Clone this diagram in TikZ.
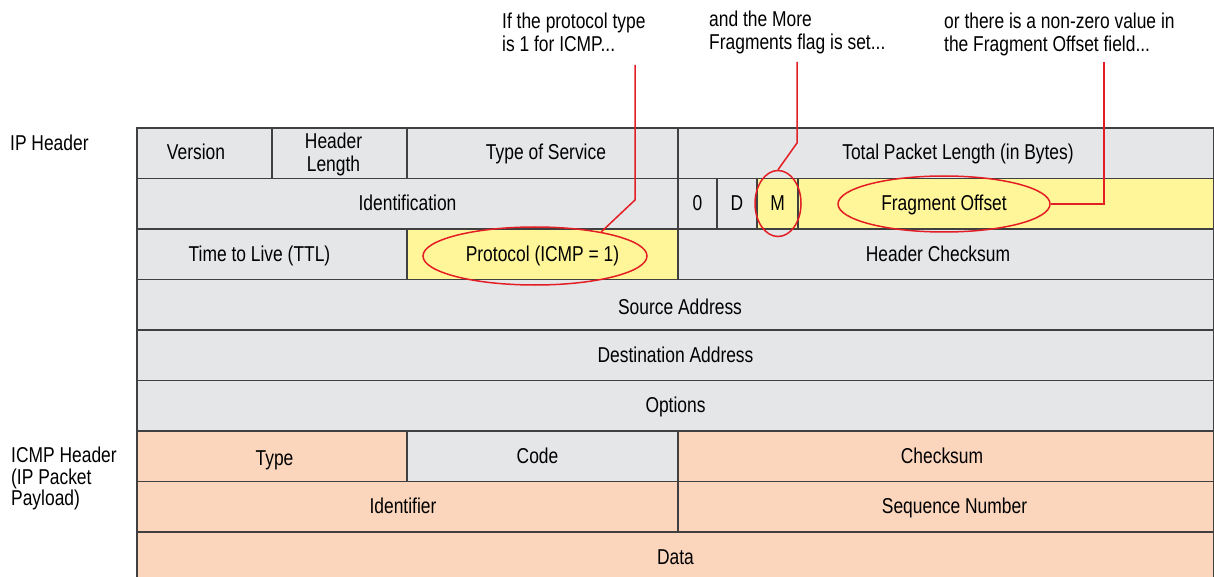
\documentclass[tikz,border=0pt]{standalone}
\usepackage{fontspec}
\setmainfont[FakeStretch=0.81]{Liberation Sans}
\usetikzlibrary{shapes.geometric, positioning}

\definecolor{cellgray}{RGB}{229,230,232}
\definecolor{cellyellow}{RGB}{255,246,153}
\definecolor{cellpeach}{RGB}{251,213,188}
\definecolor{edgegray}{RGB}{64,64,64}
\definecolor{markred}{RGB}{227,30,36}

\begin{document}
\begin{tikzpicture}[x=1pt, y=-1pt,
        cell/.style={rectangle, draw=edgegray, line width=1.1pt, fill=cellgray, minimum height=50.5pt, inner sep=0pt, outer sep=0pt, anchor=north west, align=center, text height=15.5pt, text depth=2pt, font=\fontsize{21.5}{23}\selectfont},
        nextto/.style={right=0pt of #1.north east, anchor=north west},
        under/.style={below=0pt of #1.south west, anchor=north west},
        nudge/.style={execute at begin node={\hspace*{#1pt}\hspace*{#1pt}}},
        low/.style={text height=21pt},
        ring/.style={ellipse, draw=markred, line width=1.5pt, inner sep=0pt, text height=15.5pt, text depth=2pt, font=\fontsize{21.5}{23}\selectfont},
        note/.style={anchor=north west, inner sep=0pt, align=left, font=\fontsize{21.5}{23}\selectfont},
        callout/.style={draw=markred, line width=1.5pt}
    ]
        \useasboundingbox (0,0) rectangle (1214,577);

        % IP header
        \node[cell, minimum width=135pt, nudge=-8.5] (ver) at (137,128) {Version};
        \node[cell, minimum width=135pt, text height=38.5pt, nextto=ver] (hlen) {\hspace*{-12pt}Header\\\hspace*{-12pt}Length};
        \node[cell, minimum width=271pt, nudge=3.5, nextto=hlen] (tos) {Type of Service};
        \node[cell, minimum width=536pt, nudge=12, nextto=tos] (total) {Total Packet Length (in Bytes)};

        \node[cell, minimum width=541pt, under=ver] (ident) {Identification};
        \node[cell, minimum width=39pt, nextto=ident] (flagz) {0};
        \node[cell, minimum width=40pt, nextto=flagz] (flagd) {D};
        \node[cell, minimum width=41pt, fill=cellyellow, nextto=flagd] (flagm) {M};
        \node[cell, minimum width=416pt, fill=cellyellow, nextto=flagm] (frag) {};

        \node[cell, minimum width=270pt, nudge=-12.5, under=ident] (ttl) {Time to Live (TTL)};
        \node[cell, minimum width=271pt, fill=cellyellow, nextto=ttl] (proto) {Protocol (ICMP = 1)};
        \node[cell, minimum width=536pt, nudge=-8, nextto=proto] (hcheck) {Header Checksum};

        \node[cell, minimum width=1077pt, low, nudge=4.5, under=ttl] (src) {Source Address};
        \node[cell, minimum width=1077pt, under=src] (dst) {Destination Address};
        \node[cell, minimum width=1077pt, under=dst] (opts) {Options};

        % ICMP header
        \node[cell, minimum width=270pt, fill=cellpeach, low, nudge=2.5, under=opts] (type) {Type};
        \node[cell, minimum width=271pt, nudge=-5, nextto=type] (code) {Code};
        \node[cell, minimum width=536pt, fill=cellpeach, nudge=-4, nextto=code] (csum) {Checksum};

        \node[cell, minimum width=541pt, fill=cellpeach, nudge=-4.5, under=type] (idf) {Identifier};
        \node[cell, minimum width=536pt, fill=cellpeach, nudge=8.5, nextto=idf] (seq) {Sequence Number};

        \node[cell, minimum width=1077pt, fill=cellpeach, under=idf] (data) {Data};

        % Side labels
        \node[note] (iplabel) at (10,135) {IP Header};
        \node[note, font=\fontsize{21.5}{21.5}\selectfont] (icmplabel) at (11,447) {ICMP Header\\(IP Packet\\Payload)};

        % Highlights
        \node[ring, minimum width=224pt, minimum height=58pt] (protoring) at (535,256) {};
        \node[ring, minimum width=46pt, minimum height=66pt] (mring) at (778,203.5) {};
        \node[ring, minimum width=212pt, minimum height=56pt] (fragring) at (944,204) {Fragment Offset};

        % Notes
        \node[note] (protonote) at (502,13) {If the protocol type\\is 1 for ICMP...};
        \node[note] (mnote) at (709,11) {and the More\\Fragments flag is set...};
        \node[note] (fragnote) at (944,13) {or there is a non-zero value in\\the Fragment Offset field...};

        % Callouts
        \coordinate (prototip) at (635,65);
        \coordinate (mtip) at (797,62);
        \coordinate (fragtip) at (1104,62);
        \draw[callout] (prototip) -- ++(0,135) -- (protoring.20);
        \draw[callout] (mtip) -- ++(0,81) -- (mring.north);
        \draw[callout] (fragtip) |- (fragring.east);
    \end{tikzpicture}
\end{document}
